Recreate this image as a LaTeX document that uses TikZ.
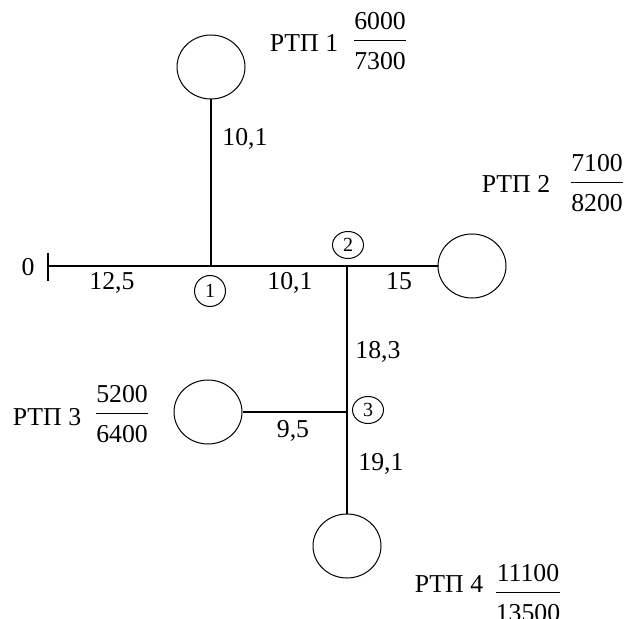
\documentclass[tikz,border=0pt]{standalone}
\usepackage{fontspec}
\setmainfont{Liberation Serif}
\usetikzlibrary{shapes.geometric}
\newcommand{\frc}[2]{$\displaystyle\frac{\mbox{#1}}{\mbox{\rule{0pt}{10.4pt}#2}}$}
\begin{document}
\begin{tikzpicture}
  [x=0.4pt,y=-0.4pt,every node/.style={font=\fontsize{10.3}{12.4}\selectfont}]
  \tikzstyle{rtp} = [draw,ellipse,minimum width=27.2pt,minimum height=25.6pt,inner sep=0pt,line width=0.4pt]
  \tikzstyle{num} = [draw,ellipse,minimum width=12.4pt,minimum height=12.4pt,inner sep=0pt,line width=0.4pt,font=\fontsize{8}{9.6}\selectfont]
  \tikzstyle{len} = [anchor=base,inner sep=0pt]
  \useasboundingbox (0,0) rectangle (627,619);
  % feeder points
  \coordinate (s0) at (48,266);
  \coordinate (t0a) at (48,253);
  \coordinate (t0b) at (48,281);
  \coordinate (j1) at (211,266);
  \coordinate (j2) at (347,266);
  \coordinate (j3) at (347,412);
  % substations
  \node[rtp] (rtp1) at (211,67)  {};
  \node[rtp] (rtp2) at (472,266) {};
  \node[rtp] (rtp3) at (208,412) {};
  \node[rtp] (rtp4) at (347,546) {};
  \node[num] (n1) at (210,291) {1};
  \node[num,minimum height=10.8pt] (n2) at (348,245) {2};
  \node[num,minimum height=10.8pt] (n3) at (368,410) {3};
  \draw[line width=0.6pt] (t0a) -- (t0b);
  \foreach \source /\dest in {s0/j1,j1/j2,j1/rtp1,j2/rtp2,j2/j3,j3/rtp3,j3/rtp4}
   \draw[line width=0.6pt] (\source) -- (\dest);
  % section lengths
  \node[len] (l0) at (28,275) {0};
  \node[len] (l01) at (112,290) {12,5};
  \node[len] (l1a) at (245,146) {10,1};
  \node[len] (l12) at (290,290) {10,1};
  \node[len] (l2a) at (399,290) {15};
  \node[len] (l23) at (378,358) {18,3};
  \node[len] (l3a) at (293,437) {9,5};
  \node[len] (l3b) at (381,470) {19,1};
  % names and loads
  \node[len] (name1) at (304,52)  {РТП 1};
  \node[len] (name2) at (516,193) {РТП 2};
  \node[len] (name3) at (47,425)  {РТП 3};
  \node[len] (name4) at (449,592) {РТП 4};
  \node[inner sep=0pt] (load1) at (380,41)  {\frc{6000}{7300}};
  \node[inner sep=0pt] (load2) at (597,183) {\frc{7100}{8200}};
  \node[inner sep=0pt] (load3) at (122,414) {\frc{5200}{6400}};
  \node[inner sep=0pt] (load4) at (528,593) {\frc{11100}{13500}};
\end{tikzpicture}
\end{document}
